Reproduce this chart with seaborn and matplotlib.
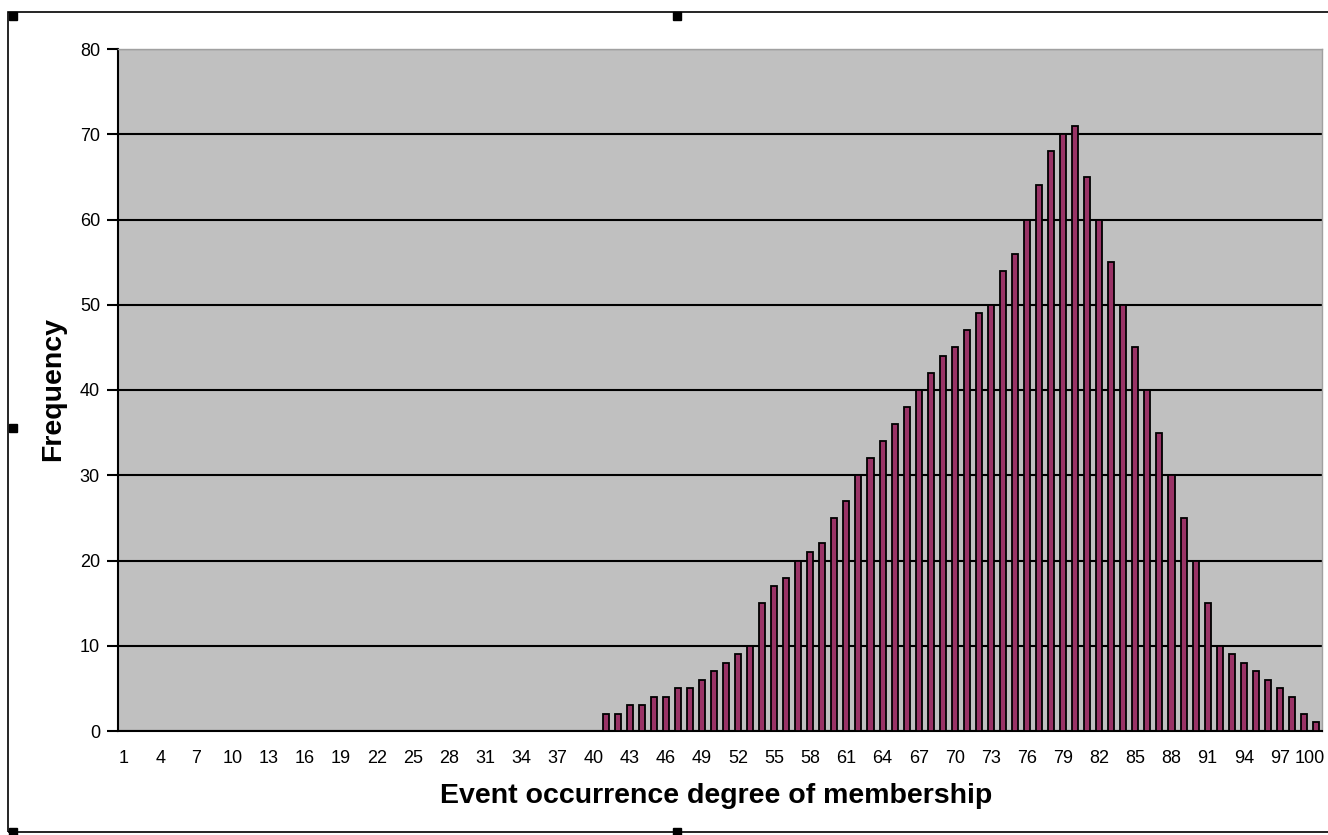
import numpy as np
import pandas as pd
import seaborn as sns
import matplotlib.pyplot as plt
import matplotlib.transforms as mtransforms
from matplotlib.patches import Rectangle

# membership degree categories 1..100
categories = list(range(1, 101))
frequency = [
    0, 0, 0, 0, 0, 0, 0, 0, 0, 0,
    0, 0, 0, 0, 0, 0, 0, 0, 0, 0,
    0, 0, 0, 0, 0, 0, 0, 0, 0, 0,
    0, 0, 0, 0, 0, 0, 0, 0, 0, 0,
    2, 2, 3, 3, 4, 4, 5, 5, 6, 7,
    8, 9, 10, 15, 17, 18, 20, 21, 22, 25,
    27, 30, 32, 34, 36, 38, 40, 42, 44, 45,
    47, 49, 50, 54, 56, 60, 64, 68, 70, 71,
    65, 60, 55, 50, 45, 40, 35, 30, 25, 20,
    15, 10, 9, 8, 7, 6, 5, 4, 2, 1,
]
tick_labels = [str(c) for c in categories[::3]]
y_ticks = [0, 10, 20, 30, 40, 50, 60, 70, 80]

df = pd.DataFrame({'degree': categories, 'freq': frequency})

sns.set_style('white')
plt.rcParams['font.family'] = ['Liberation Sans', 'DejaVu Sans']
plt.rcParams['text.color'] = 'black'
plt.rcParams['axes.labelcolor'] = 'black'
plt.rcParams['xtick.color'] = 'black'
plt.rcParams['ytick.color'] = 'black'

fig = plt.figure(figsize=(13.28, 8.35), dpi=100)
ax = fig.add_axes([118/1328, 1 - 731/835, (1322 - 118)/1328, (731 - 49)/835])

sns.barplot(ax=ax, data=df, x='degree', y='freq', order=categories,
            color='#993366', saturation=1, width=0.5,
            edgecolor='black', linewidth=1.3, zorder=3)

ax.set_facecolor('#C0C0C0')
ax.set_ylim(0, 80)
ax.set_xlim(-0.5, len(categories) - 0.5)
ax.set_yticks(y_ticks)
ax.set_yticklabels([str(v) for v in y_ticks], fontsize=13)
ax.yaxis.grid(True, color='black', linewidth=1.5, zorder=1)
ax.set_axisbelow(True)

ax.set_xticks(range(0, len(categories), 3))
ax.set_xticklabels(tick_labels, fontsize=13)
ax.set_xticks(np.arange(-0.5, len(categories), 1), minor=True)
ax.tick_params(axis='x', which='major', length=0, pad=14)
ax.tick_params(axis='x', which='minor', length=5, width=1.5, color='black',
               direction='out')
ax.tick_params(axis='y', length=8, width=1.5, color='black', direction='out',
               left=True, pad=5)

# keep the last label ("100") inside the figure edge
last = ax.get_xticklabels()[-1]
last.set_transform(last.get_transform() +
                   mtransforms.ScaledTranslation(-6/100, 0, fig.dpi_scale_trans))

for s in ['top', 'right']:
    ax.spines[s].set_color('#A0A0A0')
    ax.spines[s].set_linewidth(1)
for s in ['left', 'bottom']:
    ax.spines[s].set_color('black')
    ax.spines[s].set_linewidth(1.5)

ax.set_xlabel('Event occurrence degree of membership', fontsize=20.5,
              fontweight='bold')
ax.set_ylabel('Frequency', fontsize=20.5, fontweight='bold')
ax.xaxis.set_label_coords((716 - 118)/1204, (731 - 783)/682)
ax.yaxis.set_label_coords((66 - 118)/1204, (731 - 389)/682)

# chart area border and selection handles
W, H = 1328, 835
fig.patches.append(Rectangle((8/W, 1 - 832/H), 1.2, (832 - 12)/H,
                             transform=fig.transFigure, fill=False,
                             edgecolor='black', linewidth=1.2))
for hx, hy in [(13, 16), (677, 16), (13, 428), (677, 832), (13, 832)]:
    fig.patches.append(Rectangle(((hx - 4)/W, 1 - (hy + 4)/H), 8/W, 8/H,
                                 transform=fig.transFigure,
                                 facecolor='black', edgecolor='black'))

fig.savefig('out.png', dpi=100, facecolor='white')
